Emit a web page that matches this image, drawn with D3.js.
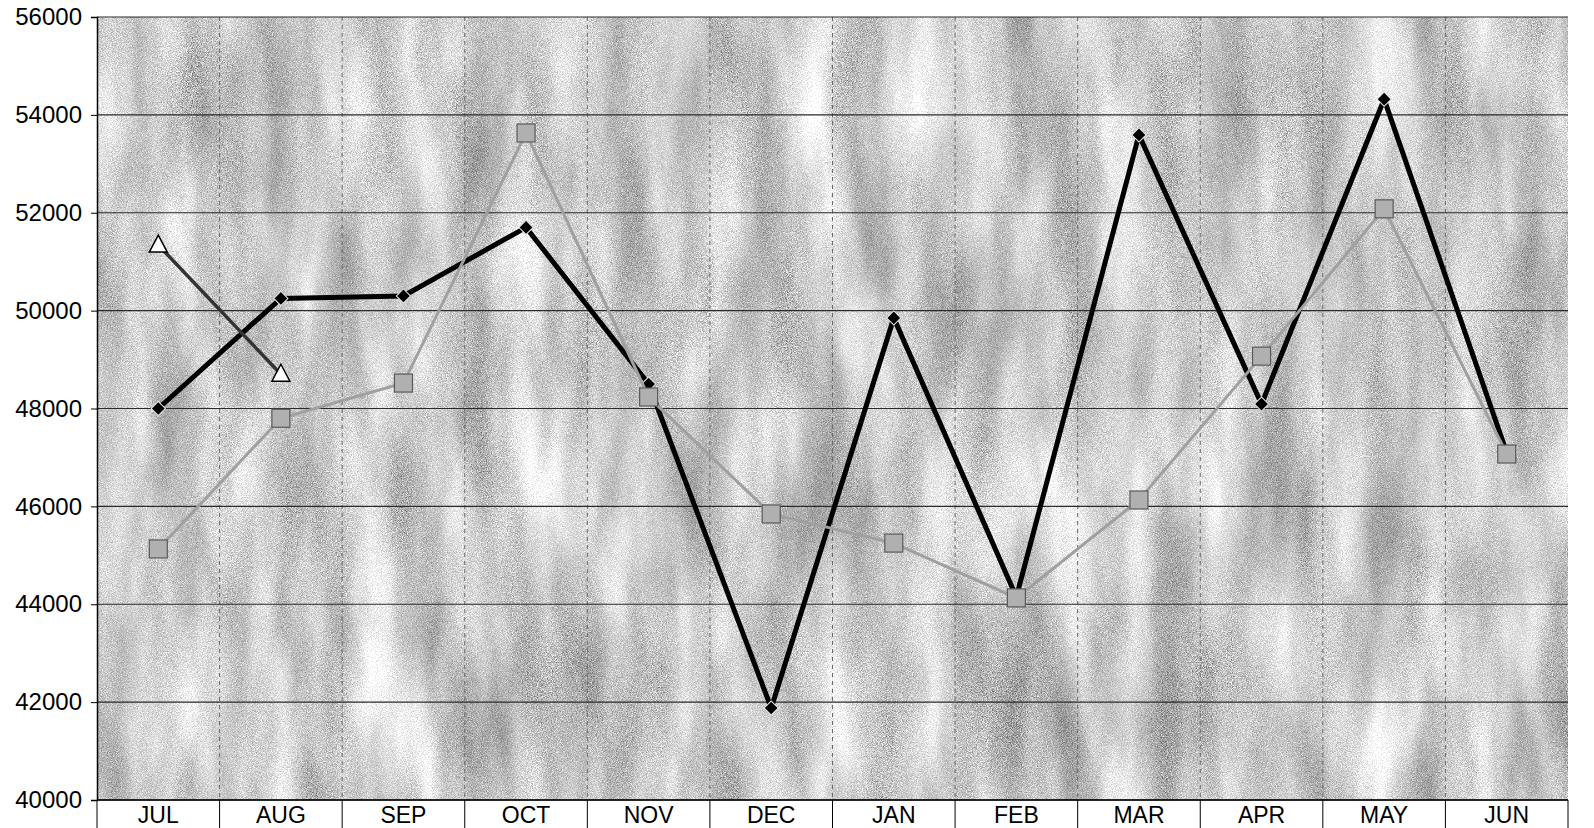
<!DOCTYPE html>
<html>
<head>
<meta charset="utf-8">
<script src="https://cdn.jsdelivr.net/npm/d3@7"></script>
<style>
  html, body { margin: 0; padding: 0; background: #ffffff; overflow: hidden; }
  svg { display: block; font-family: "Liberation Sans", Arial, sans-serif; }
</style>
</head>
<body>
<svg id="chart" width="1594" height="828"></svg>
<script>
const months = ["JUL","AUG","SEP","OCT","NOV","DEC","JAN","FEB","MAR","APR","MAY","JUN"];
const seriesBlack = [48000, 50250, 50300, 51700, 48500, 41880, 49850, 44150, 53590, 48090, 54320, 47100];
const seriesGray  = [45130, 47800, 48520, 53630, 48235, 45845, 45250, 44130, 46130, 49070, 52080, 47070];
const seriesTri   = [51340, 48700, null, null, null, null, null, null, null, null, null, null];
const yTicks = [40000, 42000, 44000, 46000, 48000, 50000, 52000, 54000, 56000];

(function () {
const svg = d3.select("#chart");
const pLeft = 97, pRight = 1568, pTop = 17, pBottom = 800;

const x = d3.scaleBand().domain(months).range([pLeft, pRight]).padding(0);
const y = d3.scaleLinear().domain([40000, 56000]).range([pBottom, pTop]);
const cx = m => x(m) + x.bandwidth() / 2;

// texture filter for plot background
const defs = svg.append("defs");
const f = defs.append("filter").attr("id", "tex")
  .attr("x", 0).attr("y", 0).attr("width", "100%").attr("height", "100%")
  .attr("color-interpolation-filters", "sRGB");
f.append("feTurbulence").attr("type", "fractalNoise")
  .attr("baseFrequency", "0.02 0.005").attr("numOctaves", 3).attr("seed", 7).attr("result", "bands");
f.append("feTurbulence").attr("type", "fractalNoise")
  .attr("baseFrequency", "1.2").attr("numOctaves", 1).attr("seed", 2).attr("result", "grain");
f.append("feComposite").attr("in", "bands").attr("in2", "grain")
  .attr("operator", "arithmetic").attr("k1", 0).attr("k2", 0.5).attr("k3", 0.6).attr("k4", -0.1).attr("result", "mix");
f.append("feColorMatrix").attr("in", "mix").attr("type", "matrix")
  .attr("values", "1 0 0 0 0  1 0 0 0 0  1 0 0 0 0  0 0 0 0 1").attr("result", "gray");
const ct = f.append("feComponentTransfer").attr("in", "gray");
["feFuncR", "feFuncG", "feFuncB"].forEach(fn =>
  ct.append(fn).attr("type", "linear").attr("slope", 0.95).attr("intercept", 0.43));

svg.append("rect")
  .attr("x", pLeft).attr("y", pTop)
  .attr("width", pRight - pLeft).attr("height", pBottom - pTop)
  .attr("fill", "#c8c8c8")
  .attr("filter", "url(#tex)");

// vertical dashed gridlines at category boundaries
const bounds = months.map(m => x(m)).concat([pRight]);
svg.append("g").selectAll("line").data(bounds.slice(1, -1)).join("line")
  .attr("x1", d => d).attr("x2", d => d)
  .attr("y1", pTop).attr("y2", pBottom)
  .attr("stroke", "#6a6a6a").attr("stroke-width", 1)
  .attr("stroke-dasharray", "4,4");

// horizontal gridlines
svg.append("g").selectAll("line").data(yTicks).join("line")
  .attr("x1", pLeft).attr("x2", pRight)
  .attr("y1", d => y(d)).attr("y2", d => y(d))
  .attr("stroke", "#2a2a2a").attr("stroke-width", 1.2);

// y axis
const yAxis = d3.axisLeft(y).tickValues(yTicks).tickSize(6).tickPadding(9).tickFormat(d3.format("d"));
const gy = svg.append("g").attr("transform", `translate(${pLeft},0)`).call(yAxis);
gy.select(".domain").attr("stroke", "#000").attr("stroke-width", 1.5);
gy.selectAll(".tick line").attr("stroke", "#000");
gy.selectAll(".tick text").attr("font-size", 24).attr("fill", "#000")
  .attr("font-family", "'Liberation Sans', Arial, sans-serif");

// x axis
svg.append("line").attr("x1", pLeft).attr("x2", pRight).attr("y1", pBottom).attr("y2", pBottom)
  .attr("stroke", "#000").attr("stroke-width", 1.5);
svg.append("g").selectAll("line").data(bounds).join("line")
  .attr("x1", d => d).attr("x2", d => d)
  .attr("y1", pBottom).attr("y2", 828)
  .attr("stroke", "#000").attr("stroke-width", 1);
svg.append("g").selectAll("text").data(months).join("text")
  .attr("x", d => cx(d)).attr("y", 823)
  .attr("text-anchor", "middle").attr("font-size", 23).attr("fill", "#000")
  .text(d => d);

function pts(vals) {
  return months.map((m, i) => ({ m, v: vals[i] })).filter(d => d.v != null);
}
const line = d3.line().x(d => cx(d.m)).y(d => y(d.v));

// black series
const pb = pts(seriesBlack);
svg.append("path").datum(pb).attr("d", line)
  .attr("fill", "none").attr("stroke", "#000").attr("stroke-width", 5).attr("stroke-linejoin", "miter");
svg.append("g").selectAll("path").data(pb).join("path")
  .attr("d", d3.symbol().type(d3.symbolSquare).size(100))
  .attr("transform", d => `translate(${cx(d.m)},${y(d.v)}) rotate(45)`)
  .attr("fill", "#000").attr("stroke", "#e8e8e8").attr("stroke-width", 1);

// gray series
const pg = pts(seriesGray);
svg.append("path").datum(pg).attr("d", line)
  .attr("fill", "none").attr("stroke", "#a0a0a0").attr("stroke-width", 3);
svg.append("g").selectAll("rect").data(pg).join("rect")
  .attr("x", d => cx(d.m) - 9).attr("y", d => y(d.v) - 9)
  .attr("width", 18).attr("height", 18)
  .attr("fill", "#b0b0b0").attr("stroke", "#5a5a5a").attr("stroke-width", 1.2);

// triangle series
const pt = pts(seriesTri);
svg.append("path").datum(pt).attr("d", line)
  .attr("fill", "none").attr("stroke", "#333").attr("stroke-width", 3.5);
svg.append("g").selectAll("path").data(pt).join("path")
  .attr("d", "M0,-10 L9,7 L-9,7 Z")
  .attr("transform", d => `translate(${cx(d.m)},${y(d.v)})`)
  .attr("fill", "#fff").attr("stroke", "#000").attr("stroke-width", 1.5);
})();
</script>
</body>
</html>
